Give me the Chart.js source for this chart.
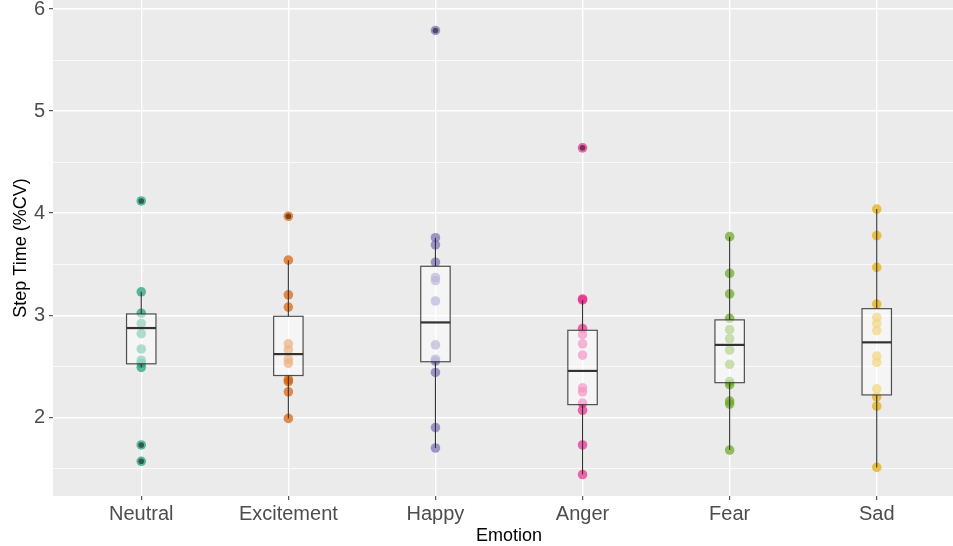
<!DOCTYPE html>
<html>
<head>
<meta charset="utf-8">
<script src="https://cdn.jsdelivr.net/npm/chart.js@4.4.1/dist/chart.umd.min.js"></script>
<style>
  html, body { margin: 0; padding: 0; background: #ffffff; overflow: hidden; }
  #wrap { width: 953px; height: 546px; overflow: hidden; }
</style>
</head>
<body>
<div id="wrap"><canvas id="c" width="965" height="546"></canvas></div>
<script>
// Emotion categories along the x axis
const emotions = ['Neutral', 'Excitement', 'Happy', 'Anger', 'Fear', 'Sad'];

// Step-time variability (%CV) per participant, one array per emotion
const neutral    = [4.12, 3.23, 3.02, 2.92, 2.82, 2.67, 2.56, 2.53, 2.49, 1.73, 1.57];
const excitement = [3.97, 3.54, 3.20, 3.08, 2.72, 2.66, 2.57, 2.53, 2.37, 2.35, 2.25, 1.99];
const happy      = [5.79, 3.76, 3.69, 3.52, 3.37, 3.34, 3.14, 2.71, 2.57, 2.55, 2.44, 1.90, 1.70];
const anger      = [4.64, 3.16, 3.15, 2.87, 2.81, 2.72, 2.61, 2.29, 2.25, 2.14, 2.07, 1.73, 1.44];
const fear       = [3.77, 3.41, 3.21, 2.97, 2.86, 2.77, 2.66, 2.52, 2.35, 2.32, 2.16, 2.13, 1.68];
const sad        = [4.04, 3.78, 3.47, 3.11, 2.98, 2.92, 2.85, 2.60, 2.54, 2.28, 2.20, 2.11, 1.51];

// Box-plot summaries per emotion
const whiskerLow  = [2.49, 1.99, 1.70, 1.44, 1.68, 1.51];
const q1          = [2.525, 2.41, 2.545, 2.125, 2.34, 2.22];
const median      = [2.875, 2.62, 2.93, 2.455, 2.71, 2.735];
const q3          = [3.013, 2.99, 3.48, 2.853, 2.955, 3.065];
const whiskerHigh = [3.23, 3.54, 3.76, 3.15, 3.77, 4.04];

// Points beyond the whiskers
const outNeutral = [4.12, 1.73, 1.57];
const outExcitement = [3.97];
const outHappy = [5.79];
const outAnger = [4.64];
const outFear = [];
const outSad = [];

// y-axis ticks: labelled integers plus minor half steps
const yTicks = [1.5, 2, 2.5, 3, 3.5, 4, 4.5, 5, 5.5, 6];
const yLabels = ['', '2', '', '3', '', '4', '', '5', '', '6'];

const seriesValues = [neutral, excitement, happy, anger, fear, sad];
const outliers = [outNeutral, outExcitement, outHappy, outAnger, outFear, outSad];
const palette = ['27,158,119', '217,95,2', '117,112,179', '231,41,138', '102,166,30', '230,171,2'];

const datasets = seriesValues.map((vals, i) => ({
  label: emotions[i],
  data: vals.map(v => ({ x: i + 1, y: v })),
  backgroundColor: 'rgba(' + palette[i] + ',0.7)',
  borderWidth: 0,
  pointRadius: 4.8,
  pointHoverRadius: 4.8
}));

const panelBg = {
  id: 'panelBg',
  beforeDraw(chart) {
    const a = chart.chartArea, ctx = chart.ctx;
    ctx.save();
    ctx.fillStyle = '#EBEBEB';
    ctx.fillRect(a.left, a.top, a.right - a.left, a.bottom - a.top);
    ctx.restore();
  }
};

const boxes = {
  id: 'boxes',
  afterDatasetsDraw(chart) {
    const ctx = chart.ctx, xs = chart.scales.x, ys = chart.scales.y;
    const half = (xs.getPixelForValue(1.1) - xs.getPixelForValue(0.9)) / 2;
    ctx.save();
    emotions.forEach((name, i) => {
      const cx = xs.getPixelForValue(i + 1);
      // outliers
      ctx.fillStyle = 'rgba(0,0,0,0.5)';
      outliers[i].forEach(v => {
        ctx.beginPath();
        ctx.arc(cx, ys.getPixelForValue(v), 2.8, 0, Math.PI * 2);
        ctx.fill();
      });
      // whiskers
      ctx.strokeStyle = '#333333';
      ctx.lineWidth = 1.1;
      ctx.beginPath();
      ctx.moveTo(cx, ys.getPixelForValue(q3[i]));
      ctx.lineTo(cx, ys.getPixelForValue(whiskerHigh[i]));
      ctx.moveTo(cx, ys.getPixelForValue(q1[i]));
      ctx.lineTo(cx, ys.getPixelForValue(whiskerLow[i]));
      ctx.stroke();
      // box
      const yTop = ys.getPixelForValue(q3[i]);
      const yBot = ys.getPixelForValue(q1[i]);
      ctx.fillStyle = 'rgba(255,255,255,0.5)';
      ctx.fillRect(cx - half, yTop, 2 * half, yBot - yTop);
      ctx.strokeStyle = 'rgba(51,51,51,0.85)';
      ctx.lineWidth = 1.2;
      ctx.strokeRect(cx - half, yTop, 2 * half, yBot - yTop);
      // median
      const yMed = ys.getPixelForValue(median[i]);
      ctx.lineWidth = 2.2;
      ctx.strokeStyle = '#333333';
      ctx.beginPath();
      ctx.moveTo(cx - half, yMed);
      ctx.lineTo(cx + half, yMed);
      ctx.stroke();
    });
    ctx.restore();
  }
};

const tickFont = { family: 'Liberation Sans, Arial, sans-serif', size: 20 };
const titleFont = { family: 'Liberation Sans, Arial, sans-serif', size: 18 };

new Chart(document.getElementById('c'), {
  type: 'scatter',
  data: { datasets },
  options: {
    responsive: false,
    animation: false,
    events: [],
    layout: { padding: 0, autoPadding: false },
    plugins: { legend: { display: false }, tooltip: { enabled: false } },
    scales: {
      x: {
        type: 'linear',
        min: 0.4,
        max: 6.6,
        afterBuildTicks(s) { s.ticks = emotions.map((e, i) => ({ value: i + 1 })); },
        afterFit(s) { s.height = 50; s.paddingLeft = 0; s.paddingRight = 0; },
        ticks: {
          autoSkip: false,
          maxRotation: 0,
          padding: 2,
          color: '#4D4D4D',
          font: tickFont,
          callback: (v, idx) => emotions[idx]
        },
        grid: {
          color: '#FFFFFF',
          lineWidth: 1.4,
          drawTicks: true,
          tickLength: 4,
          tickColor: '#333333',
          tickWidth: 1
        },
        border: { display: false },
        title: {
          display: true,
          text: 'Emotion',
          color: '#000000',
          font: titleFont,
          padding: { top: 0, bottom: -1 }
        }
      },
      y: {
        type: 'linear',
        min: 1.23,
        max: 6.088,
        afterBuildTicks(s) { s.ticks = yTicks.map(v => ({ value: v })); },
        afterFit(s) { s.width = 53; s.paddingTop = 0; s.paddingBottom = 0; },
        ticks: {
          autoSkip: false,
          padding: 4,
          color: '#4D4D4D',
          font: tickFont,
          callback: (v, idx) => yLabels[idx]
        },
        grid: {
          color: '#FFFFFF',
          lineWidth: ctx => (ctx.tick && Number.isInteger(ctx.tick.value)) ? 1.4 : 0.7,
          drawTicks: true,
          tickLength: 4,
          tickColor: ctx => (ctx.tick && Number.isInteger(ctx.tick.value)) ? '#333333' : 'rgba(0,0,0,0)',
          tickWidth: 1
        },
        border: { display: false },
        title: {
          display: true,
          text: 'Step Time (%CV)',
          color: '#000000',
          font: titleFont,
          padding: { top: 10, bottom: 0 }
        }
      }
    }
  },
  plugins: [panelBg, boxes]
});
</script>
</body>
</html>
